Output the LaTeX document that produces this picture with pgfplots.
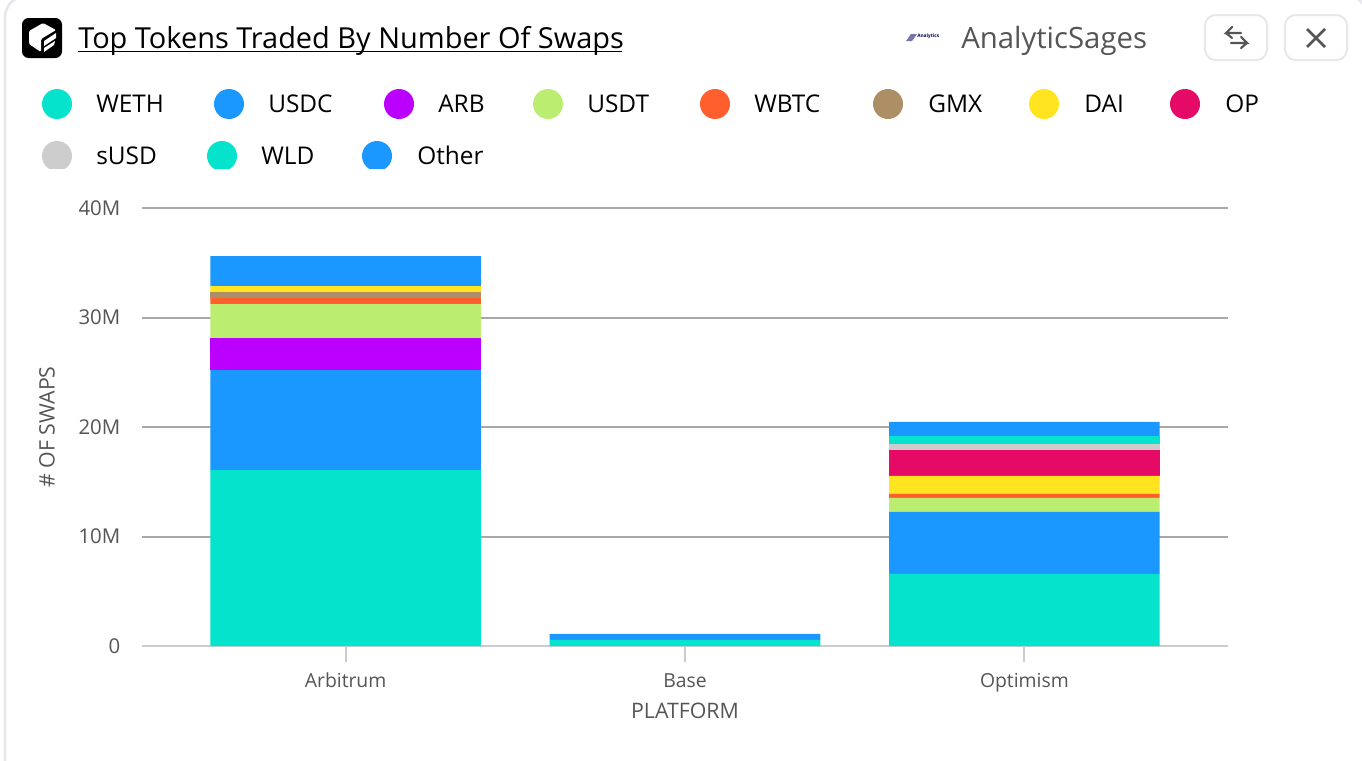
\documentclass[border=0pt]{standalone}
\usepackage{pgfplots}
\usepackage{pgfplotstable}
\usepackage{fontspec}
\setmainfont{Open Sans}
\pgfplotsset{compat=1.18}

\definecolor{cweth}{HTML}{05E3CC}
\definecolor{cusdc}{HTML}{1A98FF}
\definecolor{carb}{HTML}{BB00FF}
\definecolor{cusdt}{HTML}{BBEE70}
\definecolor{cwbtc}{HTML}{FF5F2C}
\definecolor{cgmx}{HTML}{AD8F66}
\definecolor{cdai}{HTML}{FFE41F}
\definecolor{cop}{HTML}{E40A66}
\definecolor{csusd}{HTML}{CCCCCC}
\definecolor{cwld}{HTML}{05E3CC}
\definecolor{cother}{HTML}{1A98FF}
\definecolor{txtgray}{HTML}{555555}
\definecolor{cardline}{HTML}{E8E8EC}
\definecolor{gridgray}{HTML}{A8A8A8}

% values in millions of swaps, 0 = Arbitrum, 1 = Base, 2 = Optimism
\pgfplotstableread{
x WETH  USDC ARB  USDT WBTC GMX  DAI  OP   sUSD WLD  Other
0 16.07 9.13 2.92 3.10 0.55 0.55 0.55 0    0    0    2.74
1 0.55  0.55 0    0    0    0    0    0    0    0    0
2 6.58  5.66 0    1.28 0.37 0    1.64 2.37 0.55 0.73 1.28
}\swaps

\begin{document}
\begin{tikzpicture}
\begin{scope}[x=0.75pt,y=-0.75pt]
\path[use as bounding box,clip] (0,0) rectangle (1362,760);
\fill[white] (0,0) rectangle (1362,760);
\draw[cardline,line width=2pt,rounded corners=16pt] (5,-4) rectangle (1368,800);

% header icon
\fill[black,rounded corners=5pt] (22,18) rectangle (62,58);
\fill[white,rounded corners=1pt] (43,23)--(56,30)--(41,39)--(41,52)--(29,44)--(29,31)--cycle;
\fill[white] (44,41)--(56,33)--(56,38)--(44,46)--cycle;
\fill[white] (44,48)--(55,41)--(54,45)--(44,52)--cycle;

% title
\node[anchor=base west,inner sep=0pt,font=\fontsize{21.7}{24}\selectfont] at (78,48) {Top Tokens Traded By Number Of Swaps};
\draw[black,line width=1.3pt] (78,51.5) -- (622,51.5);

% author
\fill[txtgray!70!blue!70] (906,41)--(911,34)--(917,34)--(912,41)--cycle;
\node[anchor=west,inner sep=0pt,font=\fontsize{3.6}{4}\bfseries\selectfont,text=blue!30!black] at (917,36.5) {Analytics};
\node[anchor=base west,inner sep=0pt,font=\fontsize{22}{24}\selectfont,text=txtgray] at (961,48.5) {AnalyticSages};

% buttons
\draw[cardline,line width=1.5pt,rounded corners=8pt] (1205,15) rectangle (1267,60);
\draw[cardline,line width=1.5pt,rounded corners=8pt] (1285,15) rectangle (1347,60);
\draw[txtgray,line width=1.6pt,line cap=round] (1241,33)--(1226,33)--(1232,27) (1226,33)--(1232,38);
\draw[txtgray,line width=1.6pt,line cap=round] (1231,43)--(1247,43)--(1241,37) (1247,43)--(1241,48);
\draw[txtgray,line width=2pt] (1307,29)--(1325,47) (1325,29)--(1307,47);

% legend
\begin{scope}
\clip (0,80) rectangle (1362,168);
\foreach \cx/\cy/\col in {57/104/cweth,229/104/cusdc,399/104/carb,548/104/cusdt,715/104/cwbtc,888/104/cgmx,1044/104/cdai,1185/104/cop,57/156/csusd,222/156/cwld,377/156/cother}
  \fill[\col] (\cx,\cy) circle[radius=11.25pt];
\end{scope}
\foreach \tx/\ty/\lab in {96/112/WETH,268/112/USDC,438/112/ARB,587/112/USDT,754/112/WBTC,928/112/GMX,1084/112/DAI,1225/112/OP,96/164/sUSD,261/164/WLD,417/164/Other}
  \node[anchor=base west,inner sep=0pt,font=\fontsize{18.3}{20}\selectfont] at (\tx,\ty) {\lab};
\end{scope}

\begin{axis}[
    at={(106.5pt,-484.5pt)},anchor=south west,
    scale only axis,
    width=814.5pt,height=328.5pt,
    xmin=-0.6,xmax=2.6,
    ymin=0,ymax=40,
    ybar stacked,
    bar width=203pt,
    axis x line=bottom,
    axis y line=left,
    axis line style={-,draw=csusd,line width=1.9pt},
    y axis line style={draw=none},
    xtick={0,1,2},
    xticklabels={Arbitrum,Base,Optimism},
    ytick={10,20,30,40},
    yticklabels={10M,20M,30M,40M},
    extra y ticks={0},
    extra y tick labels={0},
    extra y tick style={grid=none},
    ymajorgrids=true,
    grid style={draw=gridgray,line width=1.5pt},
    major grid style={draw=gridgray,line width=1.5pt},
    tick align=outside,
    major tick length=12pt,
    every x tick/.append style={draw=csusd,line width=1.5pt},
    every y tick/.append style={draw=none},
    xticklabel style={text=txtgray,font=\fontsize{14.5}{16}\selectfont,text height=11pt,text depth=3pt,yshift=-4.75pt},
    yticklabel style={text=txtgray,font=\fontsize{15.3}{16}\selectfont,anchor=east,xshift=-0.75pt},
    label style={text=txtgray,font=\fontsize{16}{18}\selectfont},
    xlabel={PLATFORM},
    ylabel={\# OF SWAPS},
    xlabel style={at={(axis description cs:0.5,-0.1484)},anchor=center},
    ylabel style={at={(axis description cs:-0.0875,0.5)},anchor=center},
]
\addplot[fill=cweth,draw=none] table[x=x,y=WETH] {\swaps};
\addplot[fill=cusdc,draw=none] table[x=x,y=USDC] {\swaps};
\addplot[fill=carb,draw=none] table[x=x,y=ARB] {\swaps};
\addplot[fill=cusdt,draw=none] table[x=x,y=USDT] {\swaps};
\addplot[fill=cwbtc,draw=none] table[x=x,y=WBTC] {\swaps};
\addplot[fill=cgmx,draw=none] table[x=x,y=GMX] {\swaps};
\addplot[fill=cdai,draw=none] table[x=x,y=DAI] {\swaps};
\addplot[fill=cop,draw=none] table[x=x,y=OP] {\swaps};
\addplot[fill=csusd,draw=none] table[x=x,y=sUSD] {\swaps};
\addplot[fill=cwld,draw=none] table[x=x,y=WLD] {\swaps};
\addplot[fill=cother,draw=none] table[x=x,y=Other] {\swaps};
% baseline
\draw[csusd,line width=2pt] ([yshift=-0.6pt]axis cs:-0.6,0) -- ([yshift=-0.6pt]axis cs:2.6,0);
\end{axis}
\end{tikzpicture}
\end{document}
